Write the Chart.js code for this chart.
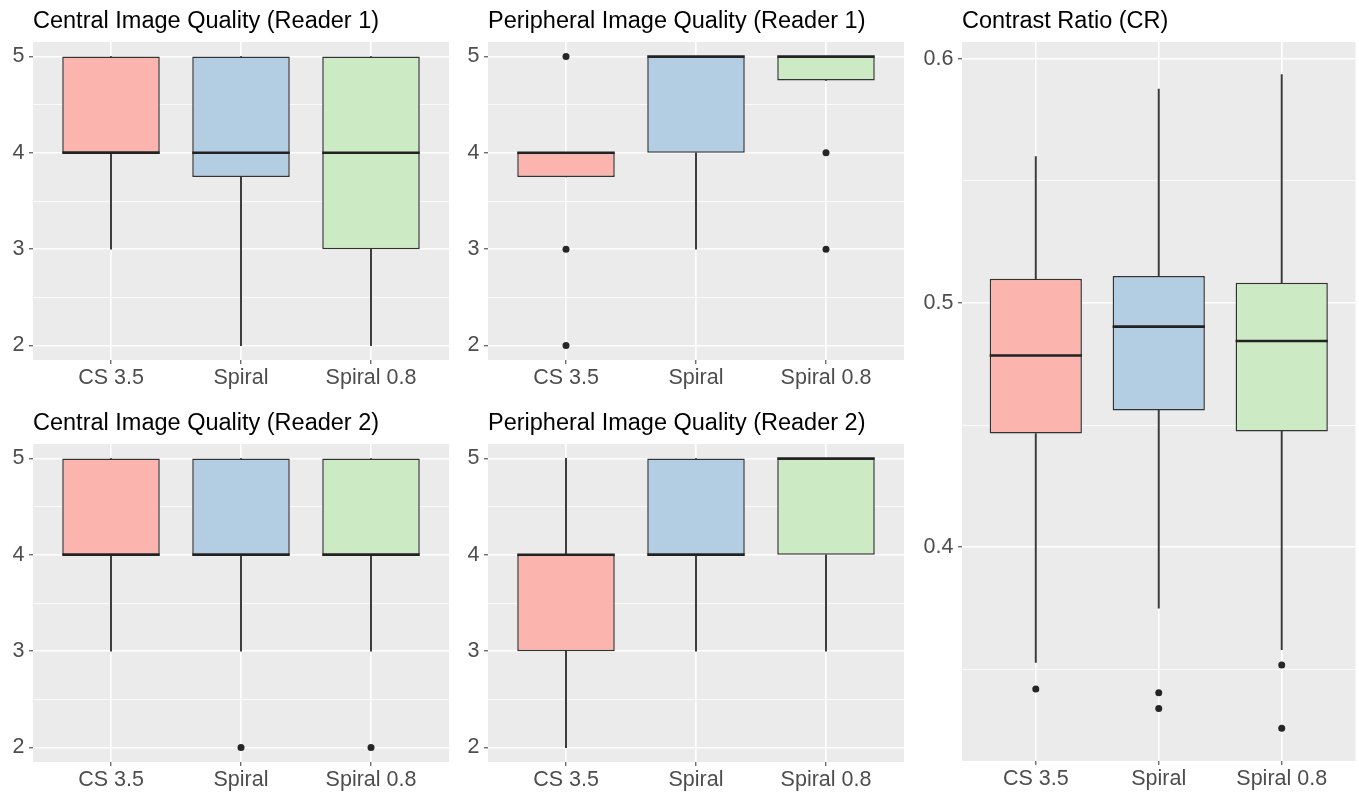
<!DOCTYPE html>
<html>
<head>
<meta charset="utf-8">
<script src="https://cdn.jsdelivr.net/npm/chart.js@4.4.1/dist/chart.umd.min.js"></script>
<style>
  html, body { margin: 0; padding: 0; background: #ffffff; width: 1359px; height: 792px; overflow: hidden; }
  canvas { position: absolute; display: block; }
</style>
</head>
<body>
<canvas id="c1" width="455" height="400" style="left:0px;top:0px"></canvas>
<canvas id="c2" width="455" height="400" style="left:455px;top:0px"></canvas>
<canvas id="c3" width="449" height="792" style="left:910px;top:0px"></canvas>
<canvas id="c4" width="455" height="390" style="left:0px;top:402px"></canvas>
<canvas id="c5" width="455" height="390" style="left:455px;top:402px"></canvas>
<script>
// ---------------- data ----------------
const categories = ['CS 3.5', 'Spiral', 'Spiral 0.8'];
const boxColors = ['#FBB4AE', '#B3CDE3', '#CCEBC5'];

const qualityTicks = [2, 3, 4, 5];
const qualityTickLabels = ['2', '3', '4', '5'];
const crTicks = [0.4, 0.5, 0.6];
const crTickLabels = ['0.4', '0.5', '0.6'];

// Central Image Quality (Reader 1)
const centralR1Low = [3, 2, 2];
const centralR1Q1 = [4, 3.75, 3];
const centralR1Median = [4, 4, 4];
const centralR1Q3 = [5, 5, 5];
const centralR1High = [5, 5, 5];
const centralR1Outliers = [[], [], []];

// Peripheral Image Quality (Reader 1)
const peripheralR1Low = [3.75, 3, 4.75];
const peripheralR1Q1 = [3.75, 4, 4.75];
const peripheralR1Median = [4, 5, 5];
const peripheralR1Q3 = [4, 5, 5];
const peripheralR1High = [4, 5, 5];
const peripheralR1Outliers = [[5, 3, 2], [], [4, 3]];

// Central Image Quality (Reader 2)
const centralR2Low = [3, 3, 3];
const centralR2Q1 = [4, 4, 4];
const centralR2Median = [4, 4, 4];
const centralR2Q3 = [5, 5, 5];
const centralR2High = [5, 5, 5];
const centralR2Outliers = [[], [2], [2]];

// Peripheral Image Quality (Reader 2)
const peripheralR2Low = [2, 3, 3];
const peripheralR2Q1 = [3, 4, 4];
const peripheralR2Median = [4, 4, 5];
const peripheralR2Q3 = [4, 5, 5];
const peripheralR2High = [5, 5, 5];
const peripheralR2Outliers = [[], [], []];

// Contrast Ratio (CR)
const crLow = [0.3528, 0.3750, 0.3580];
const crQ1 = [0.4465, 0.4560, 0.4474];
const crMedian = [0.4785, 0.4903, 0.4844];
const crQ3 = [0.5099, 0.5110, 0.5083];
const crHigh = [0.5600, 0.5876, 0.5935];
const crOutliers = [[0.3419], [0.3404, 0.3339], [0.3517, 0.3258]];

// ---------------- style ----------------
const FONT = "'Liberation Sans', Arial, sans-serif";
const BOX_WIDTH = 0.75;          // ggplot box width (fraction of category spacing)
const DISCRETE_EXPAND = 0.6;     // ggplot discrete axis expansion
const CONT_EXPAND = 0.05;        // ggplot continuous axis expansion
const INK = '#333333';

const panelBg = {
  id: 'panelBg',
  beforeDraw(chart) {
    const { ctx, chartArea: a } = chart;
    ctx.save();
    ctx.fillStyle = '#EBEBEB';
    ctx.fillRect(a.left, a.top, a.right - a.left, a.bottom - a.top);
    ctx.restore();
  }
};

function makeBoxChart(id, title, s, majorTicks, majorLabels, lay) {
  const idx = categories.map((_, i) => i);
  const allVals = [].concat(s.low, s.high, s.q1, s.q3, ...s.outliers);
  const dMin = Math.min(...allVals), dMax = Math.max(...allVals);
  const yMin = dMin - CONT_EXPAND * (dMax - dMin);
  const yMax = dMax + CONT_EXPAND * (dMax - dMin);

  const step = majorTicks[1] - majorTicks[0];
  const minorTicks = majorTicks.map(v => v - step / 2)
    .concat([majorTicks[majorTicks.length - 1] + step / 2])
    .filter(v => v >= yMin && v <= yMax);
  const yTickObjs = majorTicks.map((v, i) => ({ value: v, major: true, label: majorLabels[i] }))
    .concat(minorTicks.map(v => ({ value: v, major: false, label: '' })))
    .sort((a, b) => a.value - b.value);

  const half = BOX_WIDTH / 2;
  const datasets = [
    {
      type: 'scatter', label: 'outliers',
      data: s.outliers.flatMap((arr, i) => arr.map(v => ({ x: i, y: v }))),
      pointRadius: 3.5, pointBackgroundColor: '#262626', pointBorderWidth: 0,
      pointHoverRadius: 3.5, order: 0
    },
    {
      type: 'line', label: 'median',
      data: s.median.flatMap((m, i) => [{ x: i - half, y: m }, { x: i + half, y: m }, { x: i + 0.5, y: null }]),
      borderColor: '#222222', borderWidth: 2.6, borderCapStyle: 'butt',
      pointRadius: 0, pointHoverRadius: 0, spanGaps: false, fill: false, order: 1
    },
    {
      type: 'bar', label: 'box',
      data: idx.map(i => ({ x: i, y: [s.q1[i], s.q3[i]] })),
      backgroundColor: boxColors, borderColor: INK, borderWidth: 1.5, borderSkipped: false,
      grouped: false, categoryPercentage: BOX_WIDTH, barPercentage: 1, order: 2
    },
    {
      type: 'bar', label: 'lower whisker',
      data: idx.map(i => ({ x: i, y: [s.low[i], s.q1[i]] })),
      backgroundColor: '#3a3a3a', borderWidth: 0, barThickness: 1.3, grouped: false, order: 3
    },
    {
      type: 'bar', label: 'upper whisker',
      data: idx.map(i => ({ x: i, y: [s.q3[i], s.high[i]] })),
      backgroundColor: '#3a3a3a', borderWidth: 0, barThickness: 1.3, grouped: false, order: 3
    }
  ];

  const isMajor = ctx => !!(ctx.tick && yTickObjs.find(t => t.value === ctx.tick.value && t.major));

  return new Chart(document.getElementById(id), {
    type: 'bar',
    data: { datasets },
    plugins: [panelBg],
    options: {
      responsive: false,
      animation: false,
      events: [],
      layout: { padding: { left: 0, right: lay.right, top: 0, bottom: 0 } },
      plugins: {
        legend: { display: false },
        tooltip: { enabled: false },
        title: {
          display: true, text: title, align: 'start', fullSize: false,
          color: '#000000',
          font: { family: FONT, size: 23.5, weight: 'normal', lineHeight: 1.2 },
          padding: { top: 7.4, bottom: 6.4 }
        }
      },
      scales: {
        x: {
          type: 'linear', offset: false, bounds: 'data',
          min: -DISCRETE_EXPAND, max: categories.length - 1 + DISCRETE_EXPAND,
          afterBuildTicks: sc => { sc.ticks = idx.map(i => ({ value: i })); },
          afterFit: sc => { sc.height = lay.xh; },
          grid: { color: '#FFFFFF', lineWidth: 1.6, offset: false, drawTicks: true,
                  tickColor: INK, tickLength: 4, tickWidth: 1 },
          border: { display: false },
          ticks: { color: '#4D4D4D', font: { family: FONT, size: 21.5 }, padding: 1.6,
                   autoSkip: false, maxRotation: 0, minRotation: 0,
                   callback: v => categories[v] }
        },
        y: {
          type: 'linear', bounds: 'data', min: yMin, max: yMax,
          afterBuildTicks: sc => { sc.ticks = yTickObjs.map(t => ({ value: t.value })); },
          afterFit: sc => { sc.width = lay.yw; },
          grid: { color: '#FFFFFF',
                  lineWidth: ctx => isMajor(ctx) ? 1.6 : 0.8,
                  drawTicks: true,
                  tickColor: ctx => isMajor(ctx) ? INK : 'rgba(0,0,0,0)',
                  tickLength: 4, tickWidth: 1 },
          border: { display: false },
          ticks: { color: '#4D4D4D', font: { family: FONT, size: 21.5 }, padding: 4.5,
                   autoSkip: false,
                   callback: (v, i) => yTickObjs[i] ? yTickObjs[i].label : '' }
        }
      }
    }
  });
}

const layTop = { right: 6, xh: 40, yw: 33 };
const layBottom = { right: 6, xh: 30, yw: 33 };
const layRight = { right: 1, xh: 31, yw: 52 };

makeBoxChart('c1', 'Central Image Quality (Reader 1)',
  { low: centralR1Low, q1: centralR1Q1, median: centralR1Median, q3: centralR1Q3, high: centralR1High, outliers: centralR1Outliers },
  qualityTicks, qualityTickLabels, layTop);
makeBoxChart('c2', 'Peripheral Image Quality (Reader 1)',
  { low: peripheralR1Low, q1: peripheralR1Q1, median: peripheralR1Median, q3: peripheralR1Q3, high: peripheralR1High, outliers: peripheralR1Outliers },
  qualityTicks, qualityTickLabels, layTop);
makeBoxChart('c3', 'Contrast Ratio (CR)',
  { low: crLow, q1: crQ1, median: crMedian, q3: crQ3, high: crHigh, outliers: crOutliers },
  crTicks, crTickLabels, layRight);
makeBoxChart('c4', 'Central Image Quality (Reader 2)',
  { low: centralR2Low, q1: centralR2Q1, median: centralR2Median, q3: centralR2Q3, high: centralR2High, outliers: centralR2Outliers },
  qualityTicks, qualityTickLabels, layBottom);
makeBoxChart('c5', 'Peripheral Image Quality (Reader 2)',
  { low: peripheralR2Low, q1: peripheralR2Q1, median: peripheralR2Median, q3: peripheralR2Q3, high: peripheralR2High, outliers: peripheralR2Outliers },
  qualityTicks, qualityTickLabels, layBottom);
</script>
</body>
</html>
